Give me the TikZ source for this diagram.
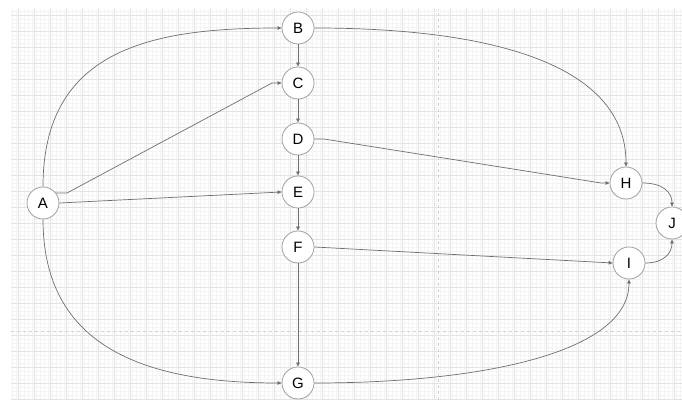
\documentclass[tikz,border=0pt]{standalone}
\usepackage{fontspec}
\setmainfont{Liberation Sans}
\usetikzlibrary{arrows.meta}
\definecolor{rejilla}{HTML}{F4F4F4}
\definecolor{rejillamayor}{HTML}{E4E4E4}
\definecolor{borde}{HTML}{A0A0A0}
\definecolor{flecha}{HTML}{6E6E6E}
\begin{document}
\begin{tikzpicture}[x=1pt,y=1pt,
  every node/.style={circle,fill=white,draw=borde,line width=0.8pt,minimum size=32pt,inner sep=0pt,font=\fontsize{15}{16}\selectfont},
  arista/.style={-{Triangle[length=4pt,width=3.5pt]},draw=flecha,line width=0.7pt}]
  \useasboundingbox (0,0) rectangle (682,403);

  % Rejilla de fondo
  \begin{scope}
    \clip (11,3) rectangle (682,394);
    \draw[rejilla,line width=0.4pt,step=4] (11,3) grid (682,394);
    \draw[rejillamayor,line width=0.5pt,step=16,shift={(2,4)}] (0,-16) grid (700,400);
  \end{scope}
  % Saltos de pagina
  \draw[dashed,gray!35,line width=0.6pt] (438,3) -- (438,394);
  \draw[dashed,gray!35,line width=0.6pt] (11,72) -- (682,72);

  % Columna central (B a G)
  \node (B) at (298, 375) {B};
  \node (C) at (298, 320) {C};
  \node (D) at (298, 264) {D};
  \node (E) at (298, 211) {E};
  \node (F) at (298, 156) {F};
  \node (G) at (298, 20) {G};

  % Vertices laterales
  \node (A) at (43, 200) {A};
  \node (H) at (626, 220) {H};
  \node (I) at (629, 140) {I};
  \node (J) at (672, 180) {J};

  % Puntos de quiebre
  \coordinate (ac1) at (67, 210);
  \coordinate (ac2) at (272, 320);
  \coordinate (dh1) at (324, 264);
  \coordinate (dh2) at (601, 220);

  % Aristas de la columna central
  \foreach \from/\to in {B/C, C/D, D/E, E/F, F/G}
    \draw[arista] (\from) -- (\to);

  % Aristas desde A
  \draw[arista] (A.north) .. controls (43, 353) and (150, 375) .. (B.west);
  \draw[arista] (A.38) -- (ac1) -- (ac2) -- (C.west);
  \draw[arista] (A.east) -- (E.west);
  \draw[arista] (A.south) .. controls (43, 53) and (150, 20) .. (G.west);

  % Aristas hacia H e I
  \draw[arista] (B.east) .. controls (480, 375) and (626, 343) .. (H.north);
  \draw[arista] (D.east) -- (dh1) -- (dh2) -- (H.west);
  \draw[arista] (F.east) -- (I.west);
  \draw[arista] (G.east) .. controls (480, 20) and (629, 50) .. (I.south);

  % Aristas hacia J
  \draw[arista] (H.east) .. controls (664, 220) and (672, 210) .. (J.north);
  \draw[arista] (I.east) .. controls (664, 140) and (672, 150) .. (J.south);
\end{tikzpicture}
\end{document}
